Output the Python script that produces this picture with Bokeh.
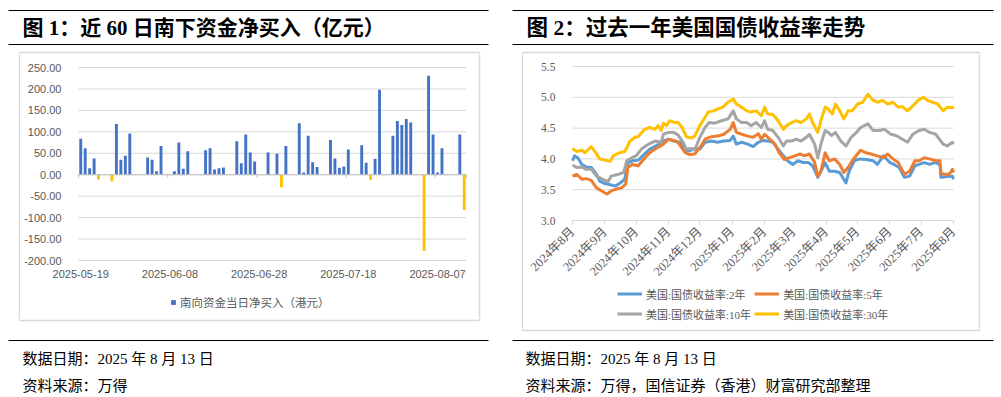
import math
import pandas as pd
from bokeh.plotting import figure
from bokeh.layouts import row, column
from bokeh.models import (Range1d, FixedTicker, ColumnDataSource, Legend, LegendItem,
                          NumeralTickFormatter)
from bokeh.core.properties import value
from bokeh.embed import file_html
from bokeh.resources import INLINE

# ---------------- texts ----------------
title1 = "图 1：近 60 日南下资金净买入（亿元）"
title2 = "图 2：过去一年美国国债收益率走势"
date_note = "数据日期：2025 年 8 月 13 日"
source1 = "资料来源：万得"
source2 = "资料来源：万得，国信证券（香港）财富研究部整理"

# ---------------- chart 1 data ----------------
flow_label = "南向资金当日净买入（港元）"
flow_dates = [
    "2025-05-19", "2025-05-20", "2025-05-21", "2025-05-22", "2025-05-23",
    "2025-05-26", "2025-05-27", "2025-05-28", "2025-05-29", "2025-05-30",
    "2025-06-03", "2025-06-04", "2025-06-05", "2025-06-06",
    "2025-06-09", "2025-06-10", "2025-06-11", "2025-06-12",
    "2025-06-16", "2025-06-17", "2025-06-18", "2025-06-19", "2025-06-20",
    "2025-06-23", "2025-06-24", "2025-06-25", "2025-06-26", "2025-06-27",
    "2025-06-30", "2025-07-02", "2025-07-03", "2025-07-04",
    "2025-07-07", "2025-07-08", "2025-07-09", "2025-07-10", "2025-07-11",
    "2025-07-14", "2025-07-15", "2025-07-16", "2025-07-17", "2025-07-18",
    "2025-07-21", "2025-07-22", "2025-07-23", "2025-07-24", "2025-07-25",
    "2025-07-28", "2025-07-29", "2025-07-30", "2025-07-31", "2025-08-01",
    "2025-08-04", "2025-08-05", "2025-08-06", "2025-08-07", "2025-08-08",
    "2025-08-12", "2025-08-13",
]
flow_values = [
    84, 62, 15, 38, -11,
    -15, 118, 35, 44, 96,
    40, 35, 8, 67,
    8, 75, 14, 55,
    57, 62, 12, 15, 17,
    78, 27, 94, 52, 31,
    52, 49, -29, 67,
    120, 5, 91, 29, 18,
    81, 38, 16, 19, 59,
    69, 28, -12, 37, 198,
    91, 125, 116, 130, 122,
    -178, 231, 94, 5, 62,
    94, -82,
]
flow_first_day = "2025-05-19"
flow_last_day = "2025-08-13"
flow_tick_dates = ["2025-05-19", "2025-06-08", "2025-06-28", "2025-07-18", "2025-08-07"]
flow_tick_labels = ["2025-05-19", "2025-06-08", "2025-06-28", "2025-07-18", "2025-08-07"]
flow_y_ticks = [-200, -150, -100, -50, 0, 50, 100, 150, 200, 250]

# ---------------- chart 2 data ----------------
ust_names = ["美国:国债收益率:2年", "美国:国债收益率:5年",
             "美国:国债收益率:10年", "美国:国债收益率:30年"]
ust_colors = ["#5B9BD5", "#ED7D31", "#A5A5A5", "#FFC000"]

y2_dates = ["2024-08-13", "2024-08-15", "2024-08-18", "2024-08-22", "2024-08-26", "2024-08-31",
            "2024-09-05", "2024-09-08", "2024-09-13", "2024-09-18", "2024-09-23", "2024-09-27",
            "2024-10-02", "2024-10-05", "2024-10-10", "2024-10-15", "2024-10-21", "2024-10-26",
            "2024-11-01", "2024-11-08", "2024-11-13", "2024-11-18", "2024-11-24", "2024-11-29",
            "2024-12-03", "2024-12-08", "2024-12-13", "2024-12-18", "2024-12-24", "2024-12-30",
            "2025-01-05", "2025-01-11", "2025-01-14", "2025-01-17", "2025-01-22", "2025-01-28",
            "2025-02-02", "2025-02-07", "2025-02-11", "2025-02-16", "2025-02-21", "2025-02-26",
            "2025-03-03", "2025-03-07", "2025-03-12", "2025-03-17", "2025-03-22", "2025-03-27",
            "2025-03-31", "2025-04-05", "2025-04-08", "2025-04-12", "2025-04-16", "2025-04-21",
            "2025-04-26", "2025-05-02", "2025-05-05", "2025-05-10", "2025-05-15", "2025-05-21",
            "2025-05-28", "2025-06-01", "2025-06-07", "2025-06-13", "2025-06-17", "2025-06-22",
            "2025-06-27", "2025-07-02", "2025-07-07", "2025-07-11", "2025-07-16", "2025-07-21",
            "2025-07-26", "2025-07-31", "2025-08-01", "2025-08-09", "2025-08-12", "2025-08-13"]
y2_values = [3.97, 4.05, 4.02, 3.91, 3.87, 3.86,
             3.75, 3.64, 3.60, 3.58, 3.56, 3.60,
             3.67, 3.94, 3.97, 3.98, 4.08, 4.16,
             4.21, 4.29, 4.32, 4.29, 4.27, 4.13,
             4.13, 4.17, 4.16, 4.27, 4.29, 4.27,
             4.29, 4.30, 4.37, 4.24, 4.27, 4.24,
             4.20, 4.27, 4.30, 4.29, 4.27, 4.16,
             4.05, 3.97, 3.91, 3.97, 3.94, 3.94,
             3.89, 3.70, 3.80, 3.94, 3.80, 3.80,
             3.78, 3.61, 3.80, 3.97, 4.00, 3.99,
             3.97, 3.91, 4.05, 3.94, 3.91, 3.86,
             3.70, 3.72, 3.89, 3.91, 3.94, 3.91,
             3.94, 3.91, 3.70, 3.72, 3.72, 3.67]

y5_dates = ["2024-08-13", "2024-08-17", "2024-08-22", "2024-08-26", "2024-08-31", "2024-09-05",
            "2024-09-10", "2024-09-15", "2024-09-19", "2024-09-24", "2024-09-29", "2024-10-03",
            "2024-10-05", "2024-10-09", "2024-10-15", "2024-10-20", "2024-10-26", "2024-11-01",
            "2024-11-08", "2024-11-13", "2024-11-18", "2024-11-22", "2024-11-29", "2024-12-03",
            "2024-12-08", "2024-12-13", "2024-12-18", "2024-12-24", "2024-12-30", "2025-01-05",
            "2025-01-11", "2025-01-14", "2025-01-17", "2025-01-22", "2025-01-28", "2025-02-02",
            "2025-02-07", "2025-02-10", "2025-02-13", "2025-02-18", "2025-02-23", "2025-02-27",
            "2025-03-04", "2025-03-09", "2025-03-14", "2025-03-19", "2025-03-23", "2025-03-28",
            "2025-04-02", "2025-04-05", "2025-04-08", "2025-04-12", "2025-04-16", "2025-04-21",
            "2025-04-26", "2025-04-30", "2025-05-04", "2025-05-08", "2025-05-13", "2025-05-16",
            "2025-05-21", "2025-05-26", "2025-06-01", "2025-06-07", "2025-06-11", "2025-06-16",
            "2025-06-21", "2025-06-27", "2025-07-02", "2025-07-07", "2025-07-11", "2025-07-16",
            "2025-07-21", "2025-07-27", "2025-07-31", "2025-08-01", "2025-08-04", "2025-08-09",
            "2025-08-12", "2025-08-13"]
y5_values = [3.72, 3.75, 3.67, 3.68, 3.65, 3.53,
             3.48, 3.43, 3.48, 3.51, 3.53, 3.59,
             3.86, 3.91, 3.89, 3.99, 4.10, 4.17,
             4.24, 4.32, 4.30, 4.27, 4.10, 4.07,
             4.08, 4.18, 4.32, 4.36, 4.37, 4.40,
             4.48, 4.59, 4.43, 4.40, 4.37, 4.35,
             4.41, 4.32, 4.40, 4.32, 4.24, 4.10,
             3.99, 4.02, 4.05, 4.08, 4.05, 4.08,
             3.94, 3.72, 3.80, 4.10, 3.97, 4.00,
             3.91, 3.78, 3.86, 3.97, 4.08, 4.14,
             4.10, 4.08, 4.05, 4.02, 4.08, 4.00,
             3.94, 3.75, 3.80, 3.97, 3.97, 4.02,
             4.00, 3.97, 3.97, 3.77, 3.75, 3.75,
             3.83, 3.78]

y10_dates = ["2024-08-13", "2024-08-17", "2024-08-22", "2024-08-26", "2024-08-31", "2024-09-05",
             "2024-09-11", "2024-09-16", "2024-09-19", "2024-09-26", "2024-10-01", "2024-10-04",
             "2024-10-09", "2024-10-13", "2024-10-18", "2024-10-25", "2024-10-31", "2024-11-06",
             "2024-11-08", "2024-11-13", "2024-11-18", "2024-11-22", "2024-11-27", "2024-11-30",
             "2024-12-05", "2024-12-08", "2024-12-13", "2024-12-18", "2024-12-22", "2024-12-27",
             "2025-01-03", "2025-01-09", "2025-01-14", "2025-01-17", "2025-01-22", "2025-01-27",
             "2025-01-31", "2025-02-05", "2025-02-10", "2025-02-13", "2025-02-16", "2025-02-21",
             "2025-02-26", "2025-03-03", "2025-03-06", "2025-03-11", "2025-03-15", "2025-03-20",
             "2025-03-25", "2025-03-28", "2025-04-02", "2025-04-05", "2025-04-08", "2025-04-12",
             "2025-04-15", "2025-04-18", "2025-04-22", "2025-04-27", "2025-05-02", "2025-05-07",
             "2025-05-12", "2025-05-16", "2025-05-23", "2025-05-28", "2025-06-03", "2025-06-08",
             "2025-06-14", "2025-06-19", "2025-06-25", "2025-06-30", "2025-07-05", "2025-07-11",
             "2025-07-16", "2025-07-21", "2025-07-27", "2025-08-03", "2025-08-07", "2025-08-12",
             "2025-08-13"]
y10_values = [3.90, 3.86, 3.87, 3.83, 3.83, 3.72,
              3.67, 3.63, 3.72, 3.75, 3.78, 3.97,
              4.02, 4.05, 4.16, 4.24, 4.29, 4.27,
              4.40, 4.43, 4.43, 4.39, 4.27, 4.16,
              4.17, 4.14, 4.35, 4.51, 4.59, 4.58,
              4.62, 4.65, 4.78, 4.65, 4.59, 4.59,
              4.54, 4.59, 4.51, 4.62, 4.48, 4.46,
              4.35, 4.21, 4.29, 4.29, 4.32, 4.29,
              4.35, 4.40, 4.24, 4.02, 4.24, 4.46,
              4.43, 4.38, 4.43, 4.29, 4.21, 4.35,
              4.43, 4.51, 4.57, 4.46, 4.46, 4.48,
              4.40, 4.38, 4.32, 4.27, 4.40, 4.46,
              4.48, 4.43, 4.40, 4.24, 4.21, 4.27,
              4.24]

y30_dates = ["2024-08-13", "2024-08-17", "2024-08-22", "2024-08-25", "2024-08-31", "2024-09-05",
             "2024-09-08", "2024-09-13", "2024-09-18", "2024-09-21", "2024-09-27", "2024-10-02",
             "2024-10-04", "2024-10-07", "2024-10-12", "2024-10-15", "2024-10-21", "2024-10-26",
             "2024-10-31", "2024-11-03", "2024-11-06", "2024-11-08", "2024-11-11", "2024-11-14",
             "2024-11-19", "2024-11-22", "2024-11-26", "2024-11-30", "2024-12-05", "2024-12-08",
             "2024-12-13", "2024-12-16", "2024-12-21", "2024-12-26", "2024-12-30", "2025-01-04",
             "2025-01-09", "2025-01-14", "2025-01-17", "2025-01-22", "2025-01-27", "2025-01-31",
             "2025-02-05", "2025-02-10", "2025-02-13", "2025-02-16", "2025-02-21", "2025-02-26",
             "2025-03-03", "2025-03-06", "2025-03-11", "2025-03-15", "2025-03-20", "2025-03-25",
             "2025-03-28", "2025-03-31", "2025-04-05", "2025-04-08", "2025-04-12", "2025-04-15",
             "2025-04-19", "2025-04-22", "2025-04-26", "2025-04-30", "2025-05-04", "2025-05-08",
             "2025-05-13", "2025-05-18", "2025-05-23", "2025-05-28", "2025-06-01", "2025-06-06",
             "2025-06-11", "2025-06-16", "2025-06-21", "2025-06-25", "2025-06-30", "2025-07-05",
             "2025-07-10", "2025-07-15", "2025-07-19", "2025-07-24", "2025-07-29", "2025-08-03",
             "2025-08-07", "2025-08-12", "2025-08-13"]
y30_values = [4.17, 4.12, 4.14, 4.10, 4.20, 4.08,
              4.00, 3.98, 3.96, 4.05, 4.10, 4.12,
              4.18, 4.29, 4.35, 4.36, 4.48, 4.51,
              4.48, 4.54, 4.46, 4.58, 4.54, 4.62,
              4.59, 4.59, 4.51, 4.36, 4.34, 4.37,
              4.54, 4.62, 4.76, 4.78, 4.81, 4.84,
              4.92, 4.97, 4.89, 4.84, 4.78, 4.76,
              4.78, 4.70, 4.84, 4.73, 4.72, 4.62,
              4.48, 4.54, 4.59, 4.62, 4.59, 4.65,
              4.73, 4.59, 4.43, 4.62, 4.84, 4.81,
              4.73, 4.89, 4.78, 4.65, 4.78, 4.78,
              4.89, 4.92, 5.05, 4.95, 4.92, 4.95,
              4.89, 4.92, 4.84, 4.85, 4.78, 4.86,
              4.95, 5.00, 4.95, 4.92, 4.89, 4.78,
              4.84, 4.83, 4.85]

ust_first_day = "2024-08-13"
ust_last_day = "2025-08-13"
ust_tick_dates = ["2024-08-13", "2024-09-13", "2024-10-13", "2024-11-13", "2024-12-13",
                  "2025-01-13", "2025-02-13", "2025-03-13", "2025-04-13", "2025-05-13",
                  "2025-06-13", "2025-07-13", "2025-08-13"]
ust_tick_labels = ["2024年8月", "2024年9月", "2024年10月", "2024年11月", "2024年12月",
                   "2025年1月", "2025年2月", "2025年3月", "2025年4月", "2025年5月",
                   "2025年6月", "2025年7月", "2025年8月"]
ust_y_ticks = [3.0, 3.5, 4.0, 4.5, 5.0, 5.5]

# ---------------- styles ----------------
SERIF = "Liberation Serif, Noto Sans CJK SC"
SANS = "Liberation Sans, Noto Sans CJK SC"
BOX = "#d9d9d9"
GRID = "#d9d9d9"
LBL = "#595959"
BLUE = "#4472C4"
GOLD = "#FFC000"
DAY = pd.Timedelta(days=1)


def ms(d):
    return pd.Timestamp(d).value / 1e6


def deco(w, h):
    p = figure(width=w, height=h, x_range=Range1d(0, w), y_range=Range1d(h, 0),
               output_backend="svg", toolbar_location=None, min_border=0,
               x_axis_location=None, y_axis_location=None,
               outline_line_color=None, background_fill_color="white",
               border_fill_color="white")
    p.xgrid.visible = False
    p.ygrid.visible = False
    return p


def put_text(p, x, y, s, size, bold=False):
    p.text(x=[x], y=[y], text=[s], text_font=value(SERIF), text_font_size=size,
           text_font_style="bold" if bold else "normal", text_color="black",
           text_baseline="middle", text_align="left")


def chart_fig(w, h, x0, x1, y0, y1, left, right, top, bottom):
    """Figure whose frame is the whole canvas; the plot area (x0..x1, y0..y1)
    sits `left`, `right`, `top`, `bottom` pixels inside it, leaving room for
    the axis labels and the legend."""
    xpp = (x1 - x0) / (w - left - right)
    ypp = (y1 - y0) / (h - top - bottom)
    p = figure(width=w, height=h, x_axis_type="datetime",
               x_range=Range1d(x0 - left * xpp, x1 + right * xpp),
               y_range=Range1d(y0 - bottom * ypp, y1 + top * ypp),
               output_backend="svg", toolbar_location=None, min_border=0,
               outline_line_color=None, background_fill_color="white",
               border_fill_color="white")
    p.xgrid.visible = False
    p.ygrid.visible = False
    return p


# ======================= LEFT PANEL (x 0..500) =======================
hL = deco(500, 54)
hL.segment(x0=[8, 8], y0=[10, 44], x1=[488, 488], y1=[10, 44], line_color="black", line_width=1.2)
put_text(hL, 22, 27, title1, "21px", bold=True)
hL.segment(x0=[19, 19, 479], y0=[52, 52, 52], x1=[479, 19, 479], y1=[52, 54, 54],
           line_color=BOX, line_width=1.5)

sL1 = deco(20, 264)
sL1.segment(x0=[19], y0=[0], x1=[19], y1=[264], line_color=BOX, line_width=1.5)
sL2 = deco(22, 264)
sL2.segment(x0=[1], y0=[0], x1=[1], y1=[264], line_color=BOX, line_width=1.5)

l_x0 = pd.Timestamp(flow_first_day) - DAY / 2
l_x1 = pd.Timestamp(flow_last_day) + DAY / 2
pL = chart_fig(458, 264, l_x0, l_x1, flow_y_ticks[0], flow_y_ticks[-1],
               left=58, right=12, top=13, bottom=58)

# horizontal grid lines over the plot area only
nL = len(flow_y_ticks)
pL.segment(x0=[l_x0] * nL, y0=flow_y_ticks, x1=[l_x1] * nL, y1=flow_y_ticks,
           line_color=GRID, line_width=1)

fd = pd.to_datetime(flow_dates)
pos_idx = [i for i, v in enumerate(flow_values) if v >= 0]
neg_idx = [i for i, v in enumerate(flow_values) if v < 0]
src_pos = ColumnDataSource(dict(x=fd[pos_idx], top=[flow_values[i] for i in pos_idx]))
src_neg = ColumnDataSource(dict(x=fd[neg_idx], top=[flow_values[i] for i in neg_idx]))
bar_w = 0.65 * 86400000
r_pos = pL.vbar(x="x", top="top", bottom=0, width=bar_w, source=src_pos,
                fill_color=BLUE, line_color=None)
r_neg = pL.vbar(x="x", top="top", bottom=0, width=bar_w, source=src_neg,
                fill_color=GOLD, line_color=None)

# category axis line at zero with its tick marks
pL.segment(x0=[l_x0], y0=[0], x1=[l_x1], y1=[0], line_color="#bfbfbf", line_width=1)
edges = [pd.Timestamp(d) - DAY / 2 for d in flow_tick_dates] + [l_x1]
pL.segment(x0=edges, y0=[0] * len(edges), x1=edges, y1=[-7] * len(edges),
           line_color="#bfbfbf", line_width=1)

pL.yaxis.fixed_location = ms(l_x0)
pL.yaxis.ticker = FixedTicker(ticks=flow_y_ticks)
pL.yaxis.formatter = NumeralTickFormatter(format="0.00")
pL.yaxis.axis_line_color = None
pL.yaxis.major_tick_line_color = None
pL.yaxis.minor_tick_line_color = None
pL.yaxis.major_label_standoff = 11
pL.yaxis.major_label_text_font = SANS
pL.yaxis.major_label_text_font_size = "11px"
pL.yaxis.major_label_text_color = LBL

pL.xaxis.fixed_location = flow_y_ticks[0]
pL.xaxis.ticker = FixedTicker(ticks=[ms(d) for d in flow_tick_dates])
pL.xaxis.major_label_overrides = {ms(d): lab for d, lab in zip(flow_tick_dates, flow_tick_labels)}
pL.xaxis.axis_line_color = None
pL.xaxis.major_tick_line_color = None
pL.xaxis.minor_tick_line_color = None
pL.xaxis.major_tick_out = 0
pL.xaxis.major_label_standoff = 9
pL.xaxis.major_label_text_font = SANS
pL.xaxis.major_label_text_font_size = "11px"
pL.xaxis.major_label_text_color = LBL

legL = Legend(items=[LegendItem(label=flow_label, renderers=[r_pos])],
              location=(150, 8), orientation="horizontal",
              border_line_color=None, background_fill_alpha=0, margin=0, padding=3,
              glyph_width=6, glyph_height=6, label_height=13, label_standoff=4,
              label_text_font=SANS, label_text_font_size="11.5px", label_text_color=LBL)
pL.add_layout(legL)

fL = deco(500, 79)
fL.segment(x0=[19, 479, 19], y0=[0, 0, 2], x1=[19, 479, 479], y1=[2, 2, 2],
           line_color=BOX, line_width=1.5)
fL.segment(x0=[8], y0=[22], x1=[488], y1=[22], line_color="black", line_width=1.2)
put_text(fL, 22, 40, date_note, "15px")
put_text(fL, 22, 67, source1, "15px")

left_panel = column(hL, row(sL1, pL, sL2), fL)

# ======================= RIGHT PANEL (x 500..1001) =======================
hR = deco(501, 54)
hR.segment(x0=[12, 12], y0=[10, 44], x1=[493, 493], y1=[10, 44], line_color="black", line_width=1.2)
put_text(hR, 26, 27, title2, "21.5px", bold=True)
hR.segment(x0=[22, 22, 479], y0=[52, 52, 52], x1=[479, 22, 479], y1=[52, 54, 54],
           line_color=BOX, line_width=1.5)

sR1 = deco(23, 274)
sR1.segment(x0=[22], y0=[0], x1=[22], y1=[274], line_color=BOX, line_width=1.5)
sR2 = deco(23, 274)
sR2.segment(x0=[1], y0=[0], x1=[1], y1=[274], line_color=BOX, line_width=1.5)

r_x0 = pd.Timestamp(ust_first_day)
r_x1 = pd.Timestamp(ust_last_day)
pR = chart_fig(455, 274, r_x0, r_x1, ust_y_ticks[0], ust_y_ticks[-1],
               left=49, right=25, top=12, bottom=108)

nR = len(ust_y_ticks)
pR.segment(x0=[r_x0] * nR, y0=ust_y_ticks, x1=[r_x1] * nR, y1=ust_y_ticks,
           line_color=GRID, line_width=1)

series = [(y2_dates, y2_values), (y5_dates, y5_values), (y10_dates, y10_values), (y30_dates, y30_values)]
rends = []
for (dts, vals), col in zip(series, ust_colors):
    r = pR.line(x=pd.to_datetime(dts), y=vals, line_color=col, line_width=3, line_join="round")
    rends.append(r)

pR.yaxis.fixed_location = ms(r_x0)
pR.yaxis.ticker = FixedTicker(ticks=ust_y_ticks)
pR.yaxis.formatter = NumeralTickFormatter(format="0.0")
pR.yaxis.axis_line_color = None
pR.yaxis.major_tick_line_color = None
pR.yaxis.minor_tick_line_color = None
pR.yaxis.major_label_standoff = 11
pR.yaxis.major_label_text_font = SERIF
pR.yaxis.major_label_text_font_size = "11.5px"
pR.yaxis.major_label_text_color = LBL

pR.xaxis.fixed_location = ust_y_ticks[0]
pR.xaxis.bounds = (ms(r_x0), ms(r_x1))
pR.xaxis.ticker = FixedTicker(ticks=[ms(d) for d in ust_tick_dates])
pR.xaxis.major_label_overrides = {ms(d): lab for d, lab in zip(ust_tick_dates, ust_tick_labels)}
pR.xaxis.major_label_orientation = math.pi / 4
pR.xaxis.axis_line_color = "#d9d9d9"
pR.xaxis.major_tick_line_color = "#d9d9d9"
pR.xaxis.minor_tick_line_color = None
pR.xaxis.major_tick_out = 4
pR.xaxis.major_tick_in = 0
pR.xaxis.major_label_standoff = 5
pR.xaxis.major_label_text_font = SERIF
pR.xaxis.major_label_text_font_size = "12.5px"
pR.xaxis.major_label_text_color = LBL

legR = Legend(items=[LegendItem(label=n, renderers=[r]) for n, r in zip(ust_names, rends)],
              location=(94, 6), orientation="horizontal", ncols=2,
              border_line_color=None, background_fill_alpha=0, margin=0, padding=3,
              glyph_width=25, glyph_height=17, label_height=17, label_standoff=4, spacing=3,
              label_text_font=SERIF, label_text_font_size="11px", label_text_color=LBL)
pR.add_layout(legR)

fR = deco(501, 69)
fR.segment(x0=[22, 479, 22], y0=[0, 0, 2], x1=[22, 479, 479], y1=[2, 2, 2],
           line_color=BOX, line_width=1.5)
fR.segment(x0=[12], y0=[12], x1=[493], y1=[12], line_color="black", line_width=1.2)
put_text(fR, 25, 30, date_note, "15px")
put_text(fR, 25, 57, source2, "15px")

right_panel = column(hR, row(sR1, pR, sR2), fR)

layout = row(left_panel, right_panel)
open("out.html", "w").write(file_html(layout, INLINE))
